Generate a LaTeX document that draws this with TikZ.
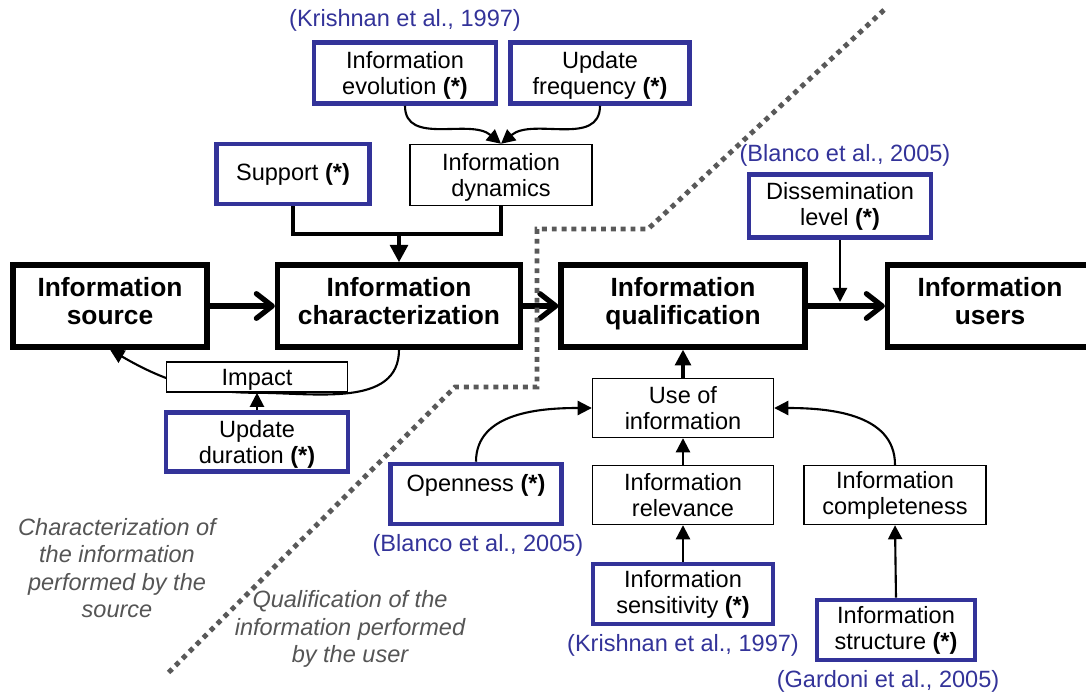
\documentclass[tikz,border=0pt]{standalone}
\usepackage{fontspec}
\setmainfont{Liberation Sans}
\usetikzlibrary{arrows.meta,backgrounds}
\definecolor{citeblue}{HTML}{333399}
\definecolor{notegray}{HTML}{555555}
\definecolor{dotgray}{HTML}{595959}
\newcommand{\boxfont}{\fontsize{13.4}{14.8}\selectfont}
\newcommand{\notefont}{\fontsize{13.4}{15.6}\selectfont}
\newcommand{\titlefont}{\fontsize{15}{16}\selectfont\bfseries}
\newcommand{\topstrut}{\rule{0pt}{13pt}}
\newcommand{\botstrut}{\rule[-5.7pt]{0pt}{5.7pt}}

\tikzset{
  wh/.style 2 args={minimum width=#1*0.02cm,minimum height=#2*0.02cm},
  box/.style={draw,line width=0.8pt,fill=white,align=center,inner sep=1pt,font=\boxfont},
  bluebox/.style={box,draw=citeblue,line width=2.6pt},
  mainbox/.style={box,line width=3pt,font=\titlefont},
  cite/.style={text=citeblue,font=\boxfont,inner sep=1pt},
  note/.style={text=notegray,font=\notefont\itshape,align=center},
  mainarr/.style={line width=3pt,-{Straight Barb[round,length=9pt,width=14pt]}},
  fatarr/.style={line width=2.8pt,-{Triangle[length=10pt,width=10pt]}},
  midarr/.style={line width=2pt,-{Triangle[length=9pt,width=9pt]}},
  arr/.style={line width=1.2pt,-{Triangle[length=8pt,width=8pt]}},
  sep/.style={dotgray,line width=2.8pt,dash pattern=on 2.8pt off 2.8pt},
}

\begin{document}
\begin{tikzpicture}[x=0.02cm,y=-0.02cm]
  \useasboundingbox (0,0) rectangle (1086,693);

  % main chain
  \node[mainbox,wh={194}{82}] (src) at (110,306) {Information\\source\botstrut};
  \node[mainbox,wh={243}{82}] (charac) at (399,306) {Information\\characterization\botstrut};
  \node[mainbox,wh={244}{82}] (qual) at (683,306) {Information\\qualification\botstrut};
  \node[mainbox,wh={205}{82}] (users) at (990,306) {Information\\users\botstrut};

  % characterization side
  \node[bluebox,wh={182}{61}] (evol) at (405,73) {\topstrut Information\\evolution \textbf{(*)}};
  \node[bluebox,wh={179}{61}] (updfreq) at (600,73) {\topstrut Update\\frequency \textbf{(*)}};
  \node[bluebox,wh={153}{60}] (support) at (293,174) {Support \textbf{(*)}};
  \node[box,wh={182}{61}] (dyn) at (501,175) {\topstrut Information\\dynamics};
  \node[box,wh={181}{29},text height=12.4pt] (impact) at (257,377) {Impact};
  \node[bluebox,wh={182}{59}] (upddur) at (257,442) {\topstrut Update\\duration \textbf{(*)}};

  % qualification side
  \node[bluebox,wh={182}{63}] (dissem) at (840,206) {Dissemination\\level \textbf{(*)}};
  \node[box,wh={181}{59}] (useinfo) at (683,408) {Use of\\information};
  \node[box,wh={181}{59}] (relev) at (683,495) {Information\\relevance};
  \node[bluebox,wh={171}{60},text depth=12.6pt] (openness) at (476,494) {Openness \textbf{(*)}};
  \node[box,wh={182}{59}] (complet) at (895,495) {Information\\completeness};
  \node[bluebox,wh={180}{60}] (sens) at (683,594) {Information\\sensitivity \textbf{(*)}};
  \node[bluebox,wh={158}{60}] (struct) at (896,630) {Information\\structure \textbf{(*)}};

  % references
  \node[cite] (citeevol) at (405,20) {(Krishnan et al., 1997)};
  \node[cite] (citedissem) at (845,155) {(Blanco et al., 2005)};
  \node[cite] (citeopen) at (478,545) {(Blanco et al., 2005)};
  \node[cite] (citesens) at (683,645) {(Krishnan et al., 1997)};
  \node[cite] (citestruct) at (888,681) {(Gardoni et al., 2005)};

  % zone notes
  \node[note] (srcnote) at (117,568) {Characterization of\\the information\\performed by the\\source};
  \node[note] (usernote) at (350,629) {Qualification of the\\information performed\\by the user};

  % connectors
  \draw[mainarr] (src) -- (charac);
  \draw[mainarr] (charac) -- (qual);
  \draw[mainarr] (qual) -- (users);
  \coordinate (join) at (399,234);
  \draw[line width=2.8pt] (support.south) |- (join) -| (dyn.south);
  \draw[fatarr] (join) -- (charac.north);
  \draw[arr] (evol.south) to[out=-90,in=140] (dyn.north);
  \draw[arr] (updfreq.south) to[out=-90,in=40] (dyn.north);
  \begin{scope}[on background layer]
    \draw[arr] (charac.south) to[out=-90,in=0] (impact.south) to[out=180,in=-30] (src.south);
  \end{scope}
  \draw[arr] (upddur) -- (impact);
  \coordinate (dissemend) at (840,302);
  \draw[arr] (dissem.south) -- (dissemend);
  \draw[midarr] (useinfo) -- (qual);
  \draw[arr] (relev) -- (useinfo);
  \draw[arr] (sens) -- (relev);
  \draw[arr] (struct.north) -- (complet.south);
  \draw[arr] (openness.north) to[out=90,in=180] (useinfo.west);
  \draw[arr] (complet.north) to[out=90,in=0] (useinfo.east);

  % dotted border between the two zones
  \draw[sep] (884,10) -- (648,229) -- (537,229) -- (537,387) -- (455,387) -- (166,675);
\end{tikzpicture}
\end{document}
